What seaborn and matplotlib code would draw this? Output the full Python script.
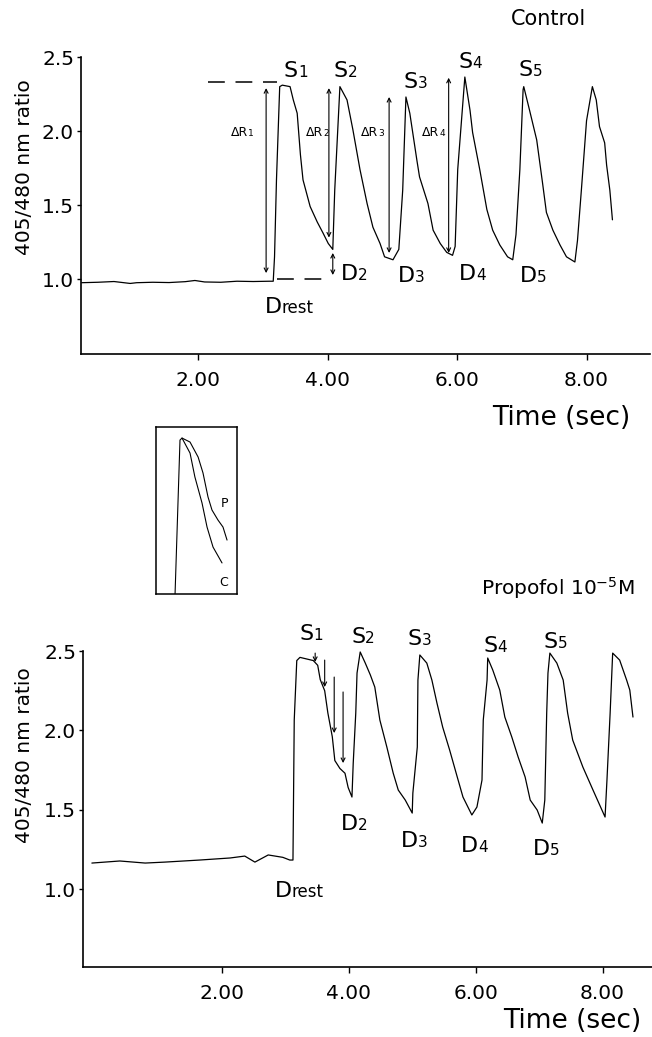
import matplotlib
matplotlib.use("Agg")
import matplotlib.pyplot as plt
import seaborn as sns

# ---------------- data ----------------
ctrl_time = [0.20, 0.45, 0.70, 0.95, 1.05, 1.30, 1.55, 1.80, 1.95, 2.10, 2.35, 2.60, 2.85, 3.10, 3.16,
             3.18, 3.21, 3.26, 3.30, 3.42, 3.47, 3.53, 3.58, 3.62, 3.73, 3.84, 3.93, 4.01, 4.08,
             4.11, 4.19,
             4.30, 4.39, 4.50, 4.61, 4.70, 4.81, 4.88, 5.01,
             5.10, 5.16, 5.21,
             5.27, 5.38, 5.42, 5.55, 5.63, 5.74, 5.84, 5.93,
             5.97, 6.01, 6.12,
             6.20, 6.24, 6.35, 6.46, 6.55, 6.66, 6.78, 6.86,
             6.91, 6.97, 7.02, 7.03,
             7.12, 7.23, 7.32, 7.38, 7.48, 7.59, 7.69, 7.82,
             7.86, 7.92, 8.00, 8.09,
             8.15, 8.20, 8.28, 8.31, 8.36, 8.40]
ctrl_ratio = [0.975, 0.978, 0.983, 0.970, 0.975, 0.978, 0.976, 0.982, 0.990, 0.980, 0.978, 0.985, 0.983, 0.985, 0.985,
              1.15, 1.67, 2.30, 2.31, 2.30, 2.21, 2.12, 1.84, 1.67, 1.49, 1.385, 1.31, 1.24, 1.20,
              1.60, 2.30,
              2.21, 2.01, 1.74, 1.51, 1.35, 1.24, 1.15, 1.13,
              1.20, 1.60, 2.23,
              2.12, 1.80, 1.69, 1.51, 1.33, 1.24, 1.18, 1.16,
              1.22, 1.74, 2.365,
              2.14, 1.99, 1.74, 1.47, 1.33, 1.23, 1.15, 1.13,
              1.30, 1.74, 2.28, 2.30,
              2.14, 1.94, 1.65, 1.45, 1.33, 1.23, 1.15, 1.115,
              1.26, 1.60, 2.07, 2.30,
              2.21, 2.03, 1.92, 1.77, 1.60, 1.40]

prop_time = [-0.05, 0.39, 0.79, 1.10, 1.65, 2.13, 2.36, 2.52, 2.73, 2.96, 3.07, 3.12,
             3.14, 3.18, 3.23, 3.44, 3.51, 3.55, 3.62, 3.67, 3.74, 3.78, 3.86, 3.94, 3.99, 4.05,
             4.07, 4.11, 4.13, 4.18,
             4.26, 4.34, 4.41, 4.49, 4.60, 4.70, 4.78, 4.89, 5.00,
             5.01, 5.08, 5.09, 5.12,
             5.23, 5.31, 5.39, 5.48, 5.59, 5.71, 5.80, 5.94,
             6.02, 6.10, 6.12, 6.18, 6.19,
             6.27, 6.38, 6.46, 6.57, 6.67, 6.78, 6.86, 6.97, 7.05,
             7.09, 7.12, 7.14, 7.17,
             7.28, 7.38, 7.45, 7.53, 7.69, 7.85, 8.04,
             8.07, 8.12, 8.16,
             8.27, 8.38, 8.43, 8.48]
prop_ratio = [1.164, 1.177, 1.164, 1.170, 1.183, 1.196, 1.208, 1.170, 1.215, 1.200, 1.183, 1.183,
              2.065, 2.44, 2.46, 2.44, 2.41, 2.32, 2.25, 2.11, 1.96, 1.81, 1.76, 1.73, 1.64, 1.58,
              1.794, 2.109, 2.361, 2.494,
              2.424, 2.349, 2.273, 2.065, 1.895, 1.731, 1.624, 1.561, 1.479,
              1.605, 1.895, 2.317, 2.475,
              2.424, 2.317, 2.172, 2.021, 1.876, 1.706, 1.580, 1.467,
              1.517, 1.687, 2.065, 2.317, 2.456,
              2.380, 2.254, 2.084, 1.958, 1.832, 1.706, 1.561, 1.498, 1.416,
              1.561, 2.109, 2.361, 2.487,
              2.424, 2.317, 2.109, 1.939, 1.769, 1.624, 1.454,
              1.687, 2.109, 2.487,
              2.443, 2.317, 2.254, 2.084]

# inset: normalised transients, control (C) and propofol (P)
inset_c_x = [0.235, 0.296, 0.321, 0.42, 0.48, 0.568, 0.63, 0.704, 0.815]
inset_c_y = [0.0, 0.922, 0.934, 0.844, 0.701, 0.545, 0.401, 0.281, 0.186]
inset_p_x = [0.321, 0.42, 0.52, 0.58, 0.642, 0.691, 0.765, 0.827, 0.877]
inset_p_y = [0.934, 0.91, 0.82, 0.725, 0.581, 0.503, 0.443, 0.401, 0.323]

y_ticks = [1.0, 1.5, 2.0, 2.5]
y_tick_labels = ["1.0", "1.5", "2.0", "2.5"]
x_ticks = [2, 4, 6, 8]
x_tick_labels = ["2.00", "4.00", "6.00", "8.00"]

peak_names = ["1", "2", "3", "4", "5"]
trough_names = ["2", "3", "4", "5"]
delta_names = ["1", "2", "3", "4"]

# ---------------- style ----------------
sns.set_theme(style="ticks")
plt.rcParams["font.family"] = ["DejaVu Sans"]
plt.rcParams["axes.linewidth"] = 1.2
plt.rcParams["xtick.major.width"] = 1.0
plt.rcParams["ytick.major.width"] = 1.0

fig = plt.figure(figsize=(6.52, 10.37), dpi=100)
fig.patch.set_facecolor("white")

ax1 = fig.add_axes([0.1242, 0.6586, 0.8727, 0.2864])
ax2 = fig.add_axes([0.1273, 0.0675, 0.8727, 0.3047])
axi = fig.add_axes([0.2393, 0.4272, 0.1242, 0.1610])

LW = 0.9


def style_axes(ax, xlim, ylim):
    ax.set_xlim(*xlim)
    ax.set_ylim(*ylim)
    for s in ["top", "right"]:
        ax.spines[s].set_visible(False)
    for s in ["left", "bottom"]:
        ax.spines[s].set_color("black")
    ax.set_xticks(x_ticks)
    ax.set_xticklabels(x_tick_labels, fontsize=14.5)
    ax.set_yticks(y_ticks)
    ax.set_yticklabels(y_tick_labels, fontsize=14.5)
    ax.tick_params(axis="x", direction="out", length=4, pad=8, colors="black")
    ax.tick_params(axis="y", direction="out", length=3, pad=2, colors="black")
    ax.set_facecolor("white")
    ax.grid(False)


def big_small(ax, x, y, big, small, fs_big=16, fs_small=11):
    ax.text(x, y, big, ha="right", va="baseline", fontsize=fs_big, color="black")
    ax.text(x, y, small, ha="left", va="baseline", fontsize=fs_small, color="black")


def dbl_arrow(ax, x, y0, y1, head="<->"):
    ax.annotate("", xy=(x, y1), xytext=(x, y0),
                arrowprops=dict(arrowstyle=head, color="black", lw=0.8,
                                shrinkA=0, shrinkB=0, mutation_scale=7))


# ---------------- top panel: control ----------------
sns.lineplot(x=ctrl_time, y=ctrl_ratio, ax=ax1, color="black", lw=LW,
             sort=False, estimator=None)
style_axes(ax1, (0.19, 8.98), (0.493, 2.5))
ax1.set_ylabel("405/480 nm ratio", fontsize=14.5, color="black")
ax1.yaxis.set_label_coords(-0.083, 0.63)
ax1.set_xlabel("Time (sec)", fontsize=19, color="black", loc="right")
ax1.xaxis.set_label_coords(0.965, -0.172)
ax1.xaxis.label.set_verticalalignment("top")

ax1.text(8.0, 2.716, "Control", ha="right", va="baseline", fontsize=15, color="black")

# dashed reference lines (peak level and resting level)
ax1.plot([2.15, 3.22], [2.331, 2.331], color="black", lw=1.1, ls=(0, (11, 7)))
ax1.plot([3.22, 4.0], [1.0, 1.0], color="black", lw=1.1, ls=(0, (11, 7)))

# ΔR arrows
dbl_arrow(ax1, 3.05, 1.04, 2.29)
dbl_arrow(ax1, 4.02, 1.28, 2.29)
dbl_arrow(ax1, 4.95, 1.176, 2.23)
dbl_arrow(ax1, 5.87, 1.176, 2.36)
dbl_arrow(ax1, 4.08, 1.027, 1.176)

for xpos, nm in zip([2.77, 3.93, 4.78, 5.73], delta_names):
    big_small(ax1, xpos, 1.965, "\u0394R", nm, fs_big=9, fs_small=6.5)

for xpos, ypos, nm in zip([3.54, 4.31, 5.39, 6.24, 7.17],
                          [2.365, 2.365, 2.29, 2.426, 2.37], peak_names):
    big_small(ax1, xpos, ypos, "S", nm)
for xpos, ypos, nm in zip([4.47, 5.35, 6.30, 7.23],
                          [0.993, 0.98, 0.993, 0.98], trough_names):
    big_small(ax1, xpos, ypos, "D", nm)
big_small(ax1, 3.29, 0.77, "D", "rest", fs_small=12)

# ---------------- bottom panel: propofol ----------------
sns.lineplot(x=prop_time, y=prop_ratio, ax=ax2, color="black", lw=LW,
             sort=False, estimator=None)
style_axes(ax2, (-0.19, 8.78), (0.509, 2.5))
ax2.set_ylabel("405/480 nm ratio", fontsize=14.5, color="black")
ax2.yaxis.set_label_coords(-0.086, 0.669)
ax2.set_xlabel("Time (sec)", fontsize=19, color="black", loc="right")
ax2.xaxis.set_label_coords(0.982, -0.13)
ax2.xaxis.label.set_verticalalignment("top")

ax2.text(8.51, 2.853, "Propofol 10$^{-5}$M", ha="right", va="baseline",
         fontsize=14.5, color="black")

for xpos, y0, y1 in zip([3.47, 3.62, 3.77, 3.91],
                        [2.487, 2.443, 2.336, 2.242],
                        [2.431, 2.273, 1.983, 1.794]):
    dbl_arrow(ax2, xpos, y0, y1, head="->")

for xpos, ypos, nm in zip([3.44, 4.26, 5.15, 6.34, 7.30],
                          [2.569, 2.55, 2.538, 2.494, 2.52], peak_names):
    big_small(ax2, xpos, ypos, "S", nm)
for xpos, ypos, nm in zip([4.14, 5.09, 6.04, 7.17],
                          [1.372, 1.265, 1.233, 1.215], trough_names):
    big_small(ax2, xpos, ypos, "D", nm)
big_small(ax2, 3.10, 0.95, "D", "rest", fs_small=12)

# ---------------- inset: normalised transient shape ----------------
sns.lineplot(x=inset_c_x, y=inset_c_y, ax=axi, color="black", lw=0.8,
             sort=False, estimator=None)
sns.lineplot(x=inset_p_x, y=inset_p_y, ax=axi, color="black", lw=0.8,
             sort=False, estimator=None)
axi.set_xlim(0, 1)
axi.set_ylim(0, 1)
axi.set_xticks([])
axi.set_yticks([])
axi.set_xlabel("")
axi.set_ylabel("")
for s in axi.spines.values():
    s.set_visible(True)
    s.set_color("black")
    s.set_linewidth(1.1)
axi.set_facecolor("white")
axi.text(0.85, 0.545, "P", ha="center", va="center", fontsize=9, color="black")
axi.text(0.84, 0.07, "C", ha="center", va="center", fontsize=9, color="black")

fig.savefig("out.png", dpi=100, facecolor="white")
